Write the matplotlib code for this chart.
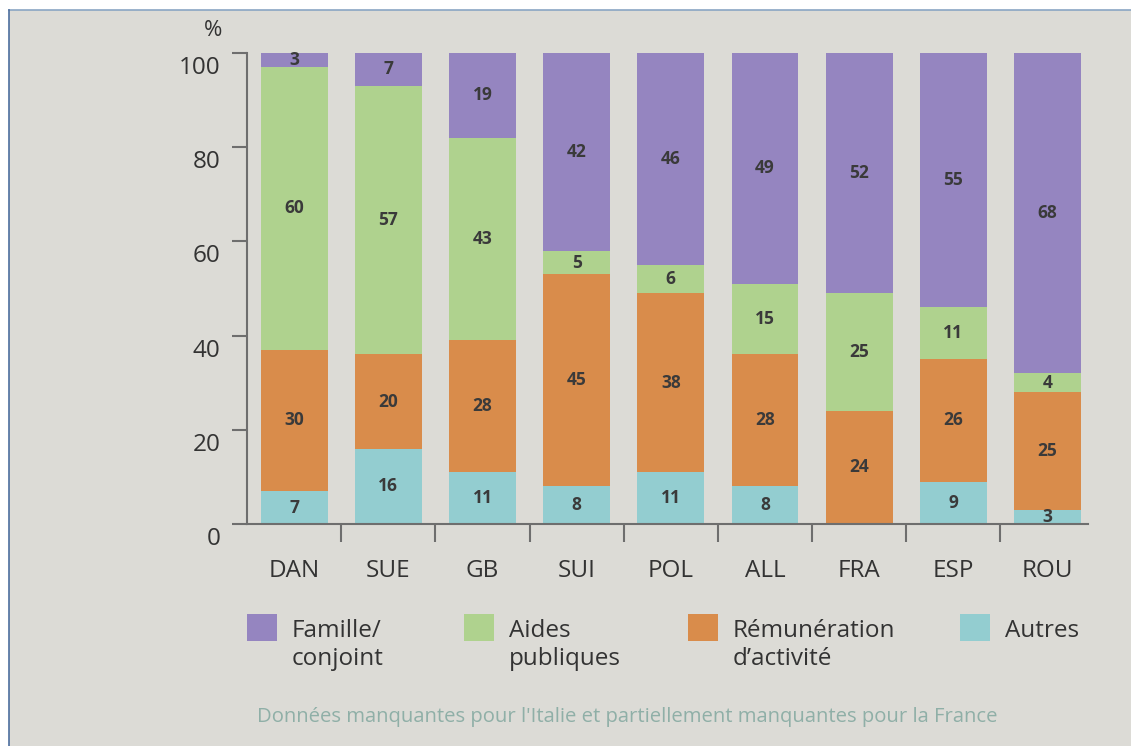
import numpy as np
import matplotlib.pyplot as plt
import matplotlib.transforms as mtransforms
from matplotlib.patches import Rectangle
from matplotlib.lines import Line2D

plt.rcParams['font.family'] = ['Open Sans', 'DejaVu Sans']

countries = ["DAN", "SUE", "GB", "SUI", "POL", "ALL", "FRA", "ESP", "ROU"]
autres = [7, 16, 11, 8, 11, 8, 0, 9, 3]
remuneration = [30, 20, 28, 45, 38, 28, 24, 26, 25]
aides = [60, 57, 43, 5, 6, 15, 25, 11, 4]
famille = [3, 7, 19, 42, 46, 49, 52, 55, 68]

# stacked bottom-up
series = [autres, remuneration, aides, famille]
labels = ["Autres", "Rémunération\nd\u2019activité", "Aides\npubliques", "Famille/\nconjoint"]
colors = ["#93cdd0", "#d98c4b", "#afd28e", "#9585c0"]

legend_order = [3, 2, 1, 0]
y_ticks = [0, 20, 40, 60, 80, 100]

W, H = 1131, 746
bg = "#dcdbd6"
txt = "#333333"
axis_col = "#6e6e6e"

fig = plt.figure(figsize=(W / 100, H / 100), dpi=100)
fig.patch.set_facecolor("white")

# grey panel with thin blue border (top + left)
fig.add_artist(Rectangle((9 / W, 0), 1, 1 - 10 / H, transform=fig.transFigure,
                         facecolor=bg, edgecolor="none", zorder=-10))
fig.add_artist(Line2D([9 / W, 1], [1 - 10 / H, 1 - 10 / H], transform=fig.transFigure,
                      color="#8aa5c3", lw=1.2))
fig.add_artist(Line2D([9 / W, 9 / W], [0, 1 - 10 / H], transform=fig.transFigure,
                      color="#4d6e9e", lw=1.2))

ax = fig.add_axes([247 / W, (H - 524) / H, (1088 - 247) / W, (524 - 53) / H])
ax.patch.set_visible(False)

x = np.arange(len(countries))
bottom = np.zeros(len(countries))
for vals, col in zip(series, colors):
    vals = np.array(vals, dtype=float)
    ax.bar(x, vals, bottom=bottom, width=0.71, color=col, edgecolor="none", zorder=2)
    for xi, b, v in zip(x, bottom, vals):
        if v <= 0:
            continue
        top = min(b + v, 100)
        ax.text(xi, (b + top) / 2, f"{int(v)}", ha="center", va="center",
                fontsize=12.5, fontweight="bold", color="#3a3a3a", zorder=3)
    bottom += vals

ax.set_xlim(-0.5, 8.43)
ax.set_ylim(0, 100)

for s in ["top", "right"]:
    ax.spines[s].set_visible(False)
for s in ["left", "bottom"]:
    ax.spines[s].set_color(axis_col)
    ax.spines[s].set_linewidth(1.5)

ax.set_xticks(x)
ax.set_xticklabels(countries, fontsize=17.5, color=txt)
ax.tick_params(axis="x", which="major", length=0, pad=25)
ax.set_xticks(np.arange(0.5, len(countries) - 1, 1.0), minor=True)
ax.tick_params(axis="x", which="minor", length=13, width=1.5, color=axis_col, direction="out")

ax.set_yticks(y_ticks)
ax.set_yticklabels([str(t) for t in y_ticks], fontsize=17.5, color=txt)
ax.tick_params(axis="y", length=11, width=1.5, color=axis_col, pad=8)
shift = mtransforms.ScaledTranslation(0, -12 / 100, fig.dpi_scale_trans)
for lab in ax.get_yticklabels():
    lab.set_transform(lab.get_transform() + shift)

fig.text(213 / W, 1 - 31 / H, "%", ha="center", va="center", fontsize=16, color=txt)

# legend
sq_x = [247, 464, 688, 960]
for px, i in zip(sq_x, legend_order):
    fig.add_artist(Rectangle((px / W, 1 - 641 / H), 30 / W, 27 / H, transform=fig.transFigure,
                             facecolor=colors[i], edgecolor="none"))
    fig.text((px + 45) / W, 1 - 619 / H, labels[i], ha="left", va="top",
             fontsize=17.5, color=txt, linespacing=1.22)

fig.text(627 / W, 1 - 717 / H,
         "Données manquantes pour l'Italie et partiellement manquantes pour la France",
         ha="center", va="center", fontsize=14.6, color="#8fafa7")

fig.savefig("out.png", dpi=100, facecolor=fig.get_facecolor())
